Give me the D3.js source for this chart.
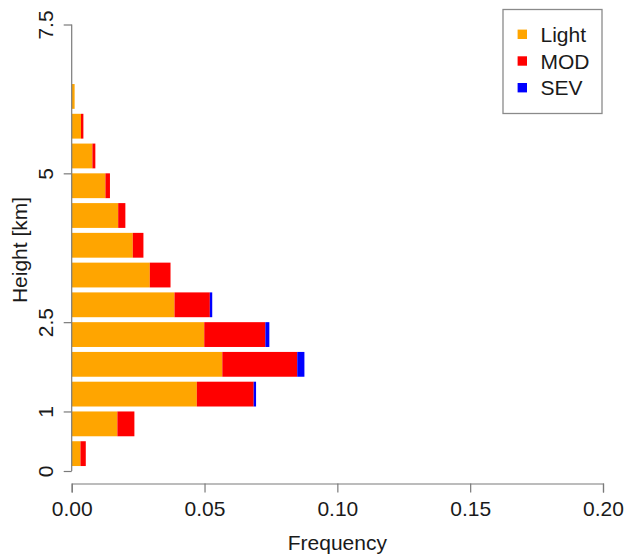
<!DOCTYPE html>
<html>
<head>
<meta charset="utf-8">
<script src="https://cdn.jsdelivr.net/npm/d3@7"></script>
<style>
  html, body { margin: 0; padding: 0; background: #ffffff; }
  svg { display: block; font-family: "Liberation Sans", Arial, Helvetica, sans-serif; }
</style>
</head>
<body>
<svg id="chart" width="628" height="554"></svg>
<script>
// Lower edge of each 0.5 km height bin
const binLow = [0, 0.5, 1.0, 1.5, 2.0, 2.5, 3.0, 3.5, 4.0, 4.5, 5.0, 5.5, 6.0];
const binSize = 0.5;

// Relative frequency per bin, by intensity class
const lightFreq = [0.0033, 0.0172, 0.0471, 0.0567, 0.0499, 0.0387, 0.0294, 0.0230, 0.0175, 0.0127, 0.0078, 0.0035, 0.0011];
const modFreq   = [0.0020, 0.0064, 0.0214, 0.0282, 0.0230, 0.0133, 0.0078, 0.0040, 0.0027, 0.0017, 0.0011, 0.0009, 0.0000];
const sevFreq   = [0.0000, 0.0000, 0.0009, 0.0027, 0.0015, 0.0009, 0.0000, 0.0000, 0.0000, 0.0000, 0.0000, 0.0000, 0.0000];

const seriesKeys = ["Light", "MOD", "SEV"];
const seriesColors = ["#FFA500", "#FF0000", "#0000FF"];

const xTicks = [0, 0.05, 0.10, 0.15, 0.20];
const yTicks = [0, 1, 2.5, 5, 7.5];

const xTitle = "Frequency";
const yTitle = "Height [km]";

// Build rows for the stack layout
const rows = binLow.map((h, i) => ({
  low: h,
  Light: lightFreq[i],
  MOD: modFreq[i],
  SEV: sevFreq[i]
}));

const svg = d3.select("#chart");
const FONT = 21;
const AXIS_COLOR = "#7a7a7a";
const TEXT_COLOR = "#1a1a1a";

const x = d3.scaleLinear().domain([0, 0.20]).range([71.7, 603]);
const y = d3.scaleLinear().domain([0, 7.5]).range([471, 24.5]);

// Fraction of each bin left empty below its bar
const gapFrac = 1 / 6;

const stacked = d3.stack().keys(seriesKeys)(rows);

const color = d3.scaleOrdinal().domain(seriesKeys).range(seriesColors);

// Bars
svg.append("g")
  .selectAll("g")
  .data(stacked)
  .join("g")
  .attr("fill", d => color(d.key))
  .selectAll("rect")
  .data(d => d)
  .join("rect")
  .attr("x", d => x(d[0]))
  .attr("width", d => Math.max(0, x(d[1]) - x(d[0])))
  .attr("y", d => y(d.data.low + binSize))
  .attr("height", d => y(d.data.low + binSize * gapFrac) - y(d.data.low + binSize));

// X axis (offset below the plot)
const xAxisG = svg.append("g")
  .attr("transform", "translate(0,483.5)")
  .call(d3.axisBottom(x).tickValues(xTicks).tickFormat(d3.format(".2f")).tickSizeOuter(9).tickSizeInner(9).tickPadding(8));

// Y axis
const yAxisG = svg.append("g")
  .attr("transform", "translate(71.7,0)")
  .call(d3.axisLeft(y).tickValues(yTicks).tickFormat(d => String(d)).tickSizeOuter(0).tickSizeInner(8));

[xAxisG, yAxisG].forEach(g => {
  g.select(".domain").attr("stroke", AXIS_COLOR).attr("stroke-width", 1.2);
  g.selectAll(".tick line").attr("stroke", AXIS_COLOR).attr("stroke-width", 1.2);
  g.selectAll(".tick text")
    .attr("fill", TEXT_COLOR)
    .attr("font-size", FONT)
    .attr("font-family", "Liberation Sans, Arial, sans-serif");
});

// Y domain runs only between the outer ticks
yAxisG.select(".domain").attr("d", `M0,${y(0)}V${y(7.5)}`);

// X tick label baseline
xAxisG.selectAll(".tick text")
  .attr("dy", null)
  .attr("y", 32);

// Rotated y tick labels, reading upward
yAxisG.selectAll(".tick text")
  .attr("x", null)
  .attr("dy", null)
  .attr("text-anchor", "middle")
  .attr("transform", "translate(-18.5,0) rotate(-90)")
  .attr("y", 0);

// Axis titles
svg.append("text")
  .attr("x", (x(0) + x(0.2)) / 2)
  .attr("y", 549.5)
  .attr("text-anchor", "middle")
  .attr("font-size", FONT)
  .attr("fill", TEXT_COLOR)
  .text(xTitle);

svg.append("text")
  .attr("transform", "translate(27,250) rotate(-90)")
  .attr("text-anchor", "middle")
  .attr("font-size", FONT)
  .attr("fill", TEXT_COLOR)
  .text(yTitle);

// Legend
const legend = svg.append("g");
legend.append("rect")
  .attr("x", 503)
  .attr("y", 9.5)
  .attr("width", 99)
  .attr("height", 104)
  .attr("fill", "#ffffff")
  .attr("stroke", "#8a8a8a")
  .attr("stroke-width", 1.3);

const legendRows = [34.3, 61, 87.7];
seriesKeys.forEach((k, i) => {
  legend.append("rect")
    .attr("x", 522.3 - 4.7)
    .attr("y", legendRows[i] - 4.7)
    .attr("width", 9.4)
    .attr("height", 9.4)
    .attr("fill", color(k));
  legend.append("text")
    .attr("x", 540.5)
    .attr("y", legendRows[i])
    .attr("dy", "0.36em")
    .attr("font-size", FONT)
    .attr("fill", TEXT_COLOR)
    .text(k);
});
</script>
</body>
</html>
